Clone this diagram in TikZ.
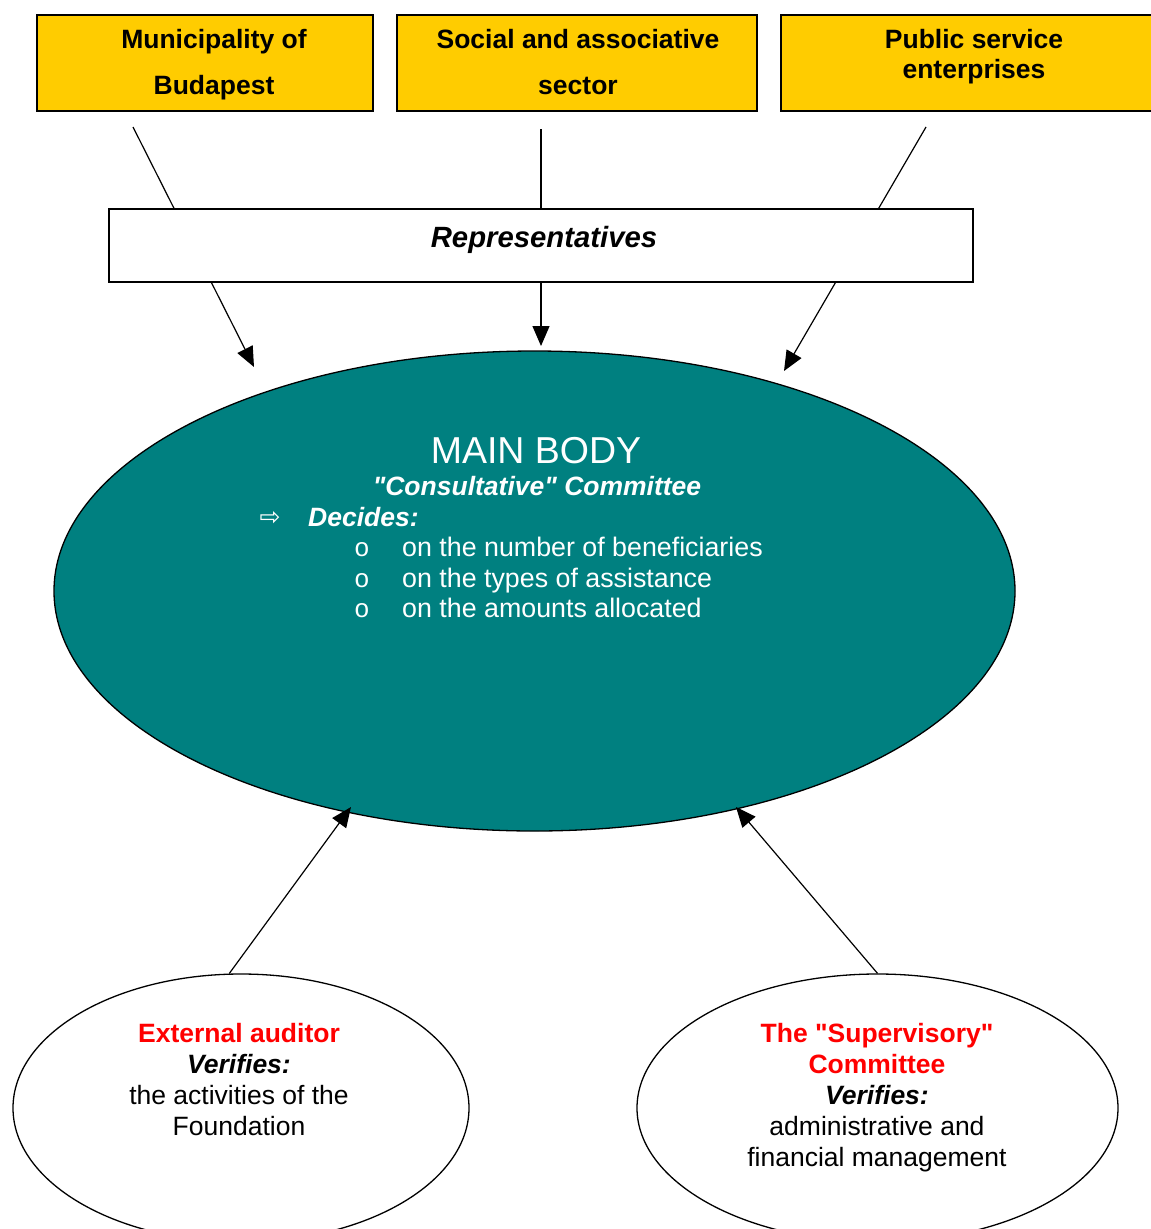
\documentclass[tikz,border=0pt]{standalone}
\usepackage{fontspec}
\setmainfont{Liberation Sans}[Ligatures=TeXOff]
\newfontfamily\djv{DejaVu Sans}
\newfontfamily\mono{Liberation Mono}
\usetikzlibrary{arrows.meta,shapes.geometric}
\definecolor{teal0}{HTML}{008080}
\definecolor{gold0}{HTML}{FFCC00}
\definecolor{red0}{HTML}{FF0000}
\begin{document}
\begin{tikzpicture}[x=1pt,y=-1pt,
  ybox/.style={draw,line width=1.3pt,fill=gold0,inner sep=0pt,minimum height=96pt},
  wbox/.style={draw,line width=1.3pt,fill=white,inner sep=0pt},
  oval/.style={ellipse,draw,line width=1.3pt,inner sep=0pt},
  arr/.style={line width=1.2pt,-{Triangle[length=20pt,width=17pt]}},
  txt/.style={anchor=base,inner sep=0pt,font=\fontsize{26.5}{31}\selectfont},
  btxt/.style={txt,font=\fontsize{26.5}{31}\selectfont\bfseries},
  wtxt/.style={txt,text=white,font=\fontsize{26.8}{31}\selectfont},
  bul/.style={wtxt,font=\fontsize{26}{31}\mono},
]
\useasboundingbox (0,0) rectangle (1151,1229);
\fill[white] (0,0) rectangle (1151,1229);

% top boxes
\node[ybox,minimum width=336pt] (mun) at (205,63) {};
\node[ybox,minimum width=360pt] (soc) at (577,63) {};
\node[ybox,minimum width=379pt] (pub) at (970.5,63) {};
\node[btxt] (munA) at (214,48) {Municipality of};
\node[btxt] (munB) at (214,94) {Budapest};
\node[btxt] (socA) at (578,48) {Social and associative};
\node[btxt] (socB) at (578,94) {sector};
\node[btxt] (pubA) at (974,48) {Public service};
\node[btxt] (pubB) at (974,78) {enterprises};

% ellipses
\node[oval,fill=teal0,minimum width=961pt,minimum height=480pt] (main) at (534.5,591) {};
\node[oval,fill=white,minimum width=456pt,minimum height=268pt] (audit) at (241,1108) {};
\node[oval,fill=white,minimum width=481pt,minimum height=268pt] (sup) at (877.5,1108) {};

% connectors from top boxes
\coordinate (s1) at (133,127); \coordinate (t1) at (254,367);
\coordinate (s2) at (541,129); \coordinate (t2) at (541,346);
\coordinate (s3) at (926,127); \coordinate (t3) at (784,371);
\draw[arr] (s1) -- (t1);
\draw[arr] (s2) -- (t2);
\draw[arr] (s3) -- (t3);

\node[wbox,minimum width=864pt,minimum height=73pt] (rep) at (541,245.5) {};
\node[txt,font=\fontsize{29.3}{31}\selectfont\bfseries\itshape] (repT) at (544,247) {Representatives};

% connectors from bottom ellipses
\coordinate (t4) at (351,807); \coordinate (t5) at (736,807);
\draw[arr] (audit.95) -- (t4);
\draw[arr] (sup.north) -- (t5);

% main body text
\node[wtxt,font=\fontsize{37.5}{40}\selectfont] (mb) at (536,463) {MAIN BODY};
\node[wtxt,font=\fontsize{26.5}{31}\selectfont\bfseries\itshape] (cc) at (537,495) {"Consultative" Committee};
\node[wtxt,font=\fontsize{25}{31}\djv] (arw) at (270,525) {⇨};
\node[wtxt,anchor=base west,font=\fontsize{26.5}{31}\selectfont\bfseries\itshape] (dec) at (308,526) {Decides:};
\node[bul] (b1) at (362,556) {o};
\node[bul] (b2) at (362,587) {o};
\node[bul] (b3) at (362,617) {o};
\node[wtxt,anchor=base west] (l1) at (402,556) {on the number of beneficiaries};
\node[wtxt,anchor=base west] (l2) at (402,587) {on the types of assistance};
\node[wtxt,anchor=base west] (l3) at (402,617) {on the amounts allocated};

% auditor text
\node[btxt,text=red0] (a1) at (239,1042) {External auditor};
\node[txt,font=\fontsize{26.5}{31}\selectfont\bfseries\itshape] (a2) at (239,1073) {Verifies:};
\node[txt] (a3) at (239,1104) {the activities of the};
\node[txt] (a4) at (239,1135) {Foundation};

% supervisory text
\node[btxt,text=red0] (c1) at (877,1042) {The "Supervisory"};
\node[btxt,text=red0] (c2) at (877,1073) {Committee};
\node[txt,font=\fontsize{26.5}{31}\selectfont\bfseries\itshape] (c3) at (877,1104) {Verifies:};
\node[txt] (c4) at (877,1135) {administrative and};
\node[txt] (c5) at (877,1166) {financial management};
\end{tikzpicture}
\end{document}
